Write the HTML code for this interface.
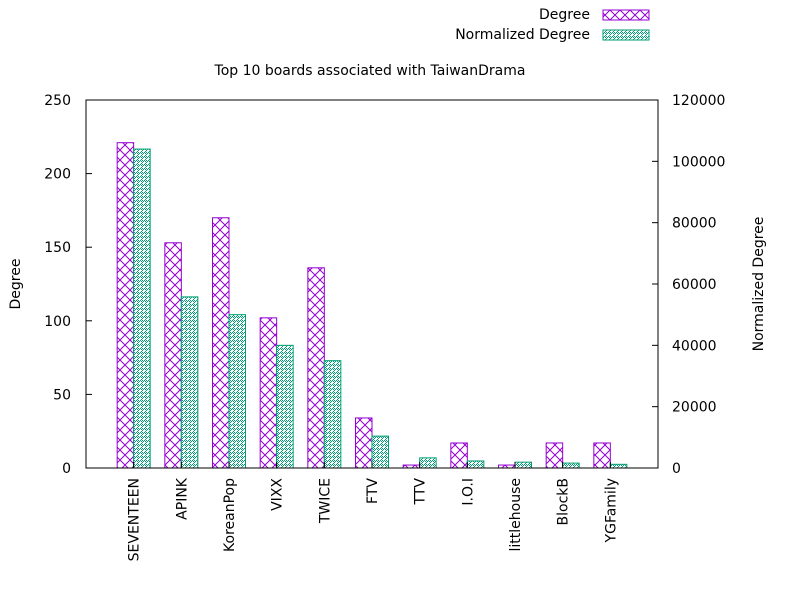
<!DOCTYPE html>
<html><head><meta charset="utf-8"><style>
body{margin:0;background:#fff}
svg{display:block;font-family:"DejaVu Sans","Liberation Sans",sans-serif;font-size:14px}
</style></head><body>
<svg id="chart" width="800" height="600">
<defs>
<pattern id="pDeg" width="10" height="10" patternUnits="userSpaceOnUse">
<rect width="10" height="10" fill="#fff"/>
<path d="M0,0L10,10M10,0L0,10" stroke="#9400d3" stroke-width="1"/>
</pattern>
<pattern id="pNorm" width="4" height="4" patternUnits="userSpaceOnUse">
<rect width="4" height="4" fill="#fff"/>
<rect x="0" y="0" width="1" height="1" fill="#009e73"/><rect x="2" y="0" width="1" height="1" fill="#009e73"/>
<rect x="1" y="1" width="1" height="1" fill="#009e73"/><rect x="3" y="1" width="1" height="1" fill="#009e73"/>
<rect x="2" y="2" width="1" height="1" fill="#009e73"/><rect x="1" y="3" width="1" height="1" fill="#009e73"/>
</pattern>
</defs>
<g id="marks"></g>
<rect x="86" y="100" width="572" height="368" fill="none" stroke="#000"/>
<g id="axes"></g>
<text x="370" y="75" text-anchor="middle">Top 10 boards associated with TaiwanDrama</text>
<text transform="translate(20,284) rotate(-90)" text-anchor="middle">Degree</text>
<text transform="translate(763,284) rotate(-90)" text-anchor="middle">Normalized Degree</text>
<g>
<text x="590" y="19" text-anchor="end">Degree</text>
<rect x="603" y="10" width="46" height="10" fill="url(#pDeg)" stroke="#9400d3"/>
</g>
<g>
<text x="590" y="39" text-anchor="end">Normalized Degree</text>
<rect x="603" y="30" width="46" height="10" fill="url(#pNorm)" stroke="#009e73"/>
</g>
</svg>
<script>
const categories=["SEVENTEEN","APINK","KoreanPop","VIXX","TWICE","FTV","TTV","I.O.I","littlehouse","BlockB","YGFamily"];
const degree=[221,153,170,102,136,34,2,17,2,17,17];
const normalized=[104000,55800,50000,40000,35000,10400,3300,2300,1900,1600,1200];
const leftTicks=[0,50,100,150,200,250];
const rightTicks=[0,20000,40000,60000,80000,100000,120000];
const L=86,R=658,T=100,B=468;
const NS="http://www.w3.org/2000/svg";
const xC=i=>L+(i+1)*(R-L)/(categories.length+1);
const yL=v=>B-v/250*(B-T);
const yR=v=>B-v/120000*(B-T);
function mk(tag,attrs,parent){const e=document.createElementNS(NS,tag);for(const k in attrs)e.setAttribute(k,attrs[k]);parent.appendChild(e);return e;}
const marks=document.getElementById('marks'),axes=document.getElementById('axes');
const w=16.5;
categories.forEach((c,i)=>{
 const x=xC(i);
 const b1=mk('rect',{x:x-w,y:yL(degree[i]),width:w,height:B-yL(degree[i]),fill:'url(#pDeg)',stroke:'#9400d3'},marks);
 
 
 const b2=mk('rect',{x:x,y:yR(normalized[i]),width:w,height:B-yR(normalized[i]),fill:'url(#pNorm)',stroke:'#009e73'},marks);
 
 
 mk('line',{x1:x,x2:x,y1:B,y2:B-6,stroke:'#000'},axes);
 const t=mk('text',{transform:`translate(${x+5},${B+10}) rotate(-90)`,'text-anchor':'end'},axes);
 t.textContent=c;
 
 
});
leftTicks.forEach(v=>{
 const y=yL(v);
 mk('line',{x1:L,x2:L+6,y1:y,y2:y,stroke:'#000'},axes);
 const t=mk('text',{x:L-15,y:y+5,'text-anchor':'end'},axes);t.textContent=v;
 
 
});
rightTicks.forEach(v=>{
 const y=yR(v);
 mk('line',{x1:R,x2:R-6,y1:y,y2:y,stroke:'#000'},axes);
 const t=mk('text',{x:R+14,y:y+5,'text-anchor':'start'},axes);t.textContent=v;
 
 
});
</script>
</body></html>
